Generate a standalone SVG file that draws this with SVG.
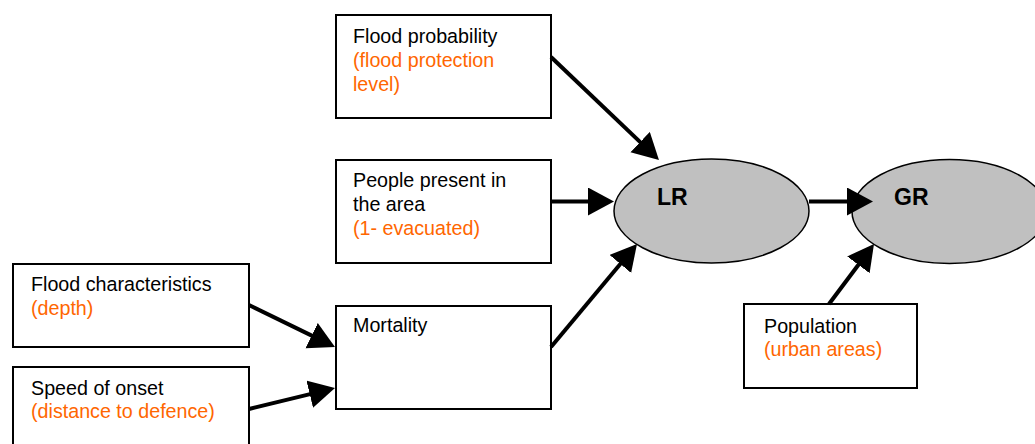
<svg xmlns="http://www.w3.org/2000/svg" width="1035" height="444" viewBox="0 0 1035 444">
<defs>
<style>
.box{fill:#fff;stroke:#000;stroke-width:2}
.ell{fill:#c0c0c0;stroke:#000;stroke-width:1.5}
.t{font-family:"Liberation Sans",Arial,sans-serif;font-size:19.7px;fill:#000}
.o{fill:#ff6600}
.b{font-family:"Liberation Sans",Arial,sans-serif;font-size:23px;font-weight:bold;fill:#000}
.c{stroke:#000;stroke-width:4;fill:none;marker-end:url(#ah)}
</style>
<marker id="ah" markerUnits="userSpaceOnUse" markerWidth="27" markerHeight="29" refX="11" refY="14" orient="auto" viewBox="0 0 27 29">
<path d="M0,0 L26,14 L0,28 z" fill="#000"/>
</marker>
</defs>
<rect width="1035" height="444" fill="#fff"/>
<g id="flood-probability">
<rect class="box" x="336" y="15" width="215" height="103"/>
<text class="t" x="353" y="43">Flood probability</text>
<text class="t o" x="353" y="67">(flood protection</text>
<text class="t o" x="353" y="91">level)</text>
</g>
<g id="people-present">
<rect class="box" x="336" y="160" width="215" height="103"/>
<text class="t" x="353" y="187">People present in</text>
<text class="t" x="353" y="211">the area</text>
<text class="t o" x="353" y="235">(1- evacuated)</text>
</g>
<g id="mortality">
<rect class="box" x="336" y="306" width="215" height="103"/>
<text class="t" x="353" y="332">Mortality</text>
</g>
<g id="flood-characteristics">
<rect class="box" x="13" y="264" width="236" height="83"/>
<text class="t" x="31" y="291">Flood characteristics</text>
<text class="t o" x="31" y="315">(depth)</text>
</g>
<g id="speed-of-onset">
<rect class="box" x="13" y="367" width="236" height="110"/>
<text class="t" x="31" y="395">Speed of onset</text>
<text class="t o" x="31" y="418">(distance to defence)</text>
</g>
<g id="population">
<rect class="box" x="744" y="304" width="173" height="84"/>
<text class="t" x="764" y="333">Population</text>
<text class="t o" x="764" y="356">(urban areas)</text>
</g>
<g id="LR">
<ellipse class="ell" cx="711.5" cy="211" rx="97.5" ry="52"/>
<text class="b" x="657" y="205">LR</text>
</g>
<g id="GR">
<ellipse class="ell" cx="949.5" cy="211.5" rx="97.5" ry="52"/>
<text class="b" x="894" y="205">GR</text>
</g>
<g id="connectors">
<line class="c" x1="551" y1="57" x2="648.1" y2="149.6"/>
<line class="c" x1="551" y1="201.5" x2="599" y2="201.5"/>
<line class="c" x1="551" y1="347" x2="627.4" y2="255.5"/>
<line class="c" x1="809" y1="201.5" x2="858" y2="201.5"/>
<line class="c" x1="829" y1="304" x2="865" y2="256"/>
<line class="c" x1="249" y1="305" x2="321.5" y2="340.4"/>
<line class="c" x1="249" y1="409" x2="320.4" y2="391.6"/>
</g>
</svg>
